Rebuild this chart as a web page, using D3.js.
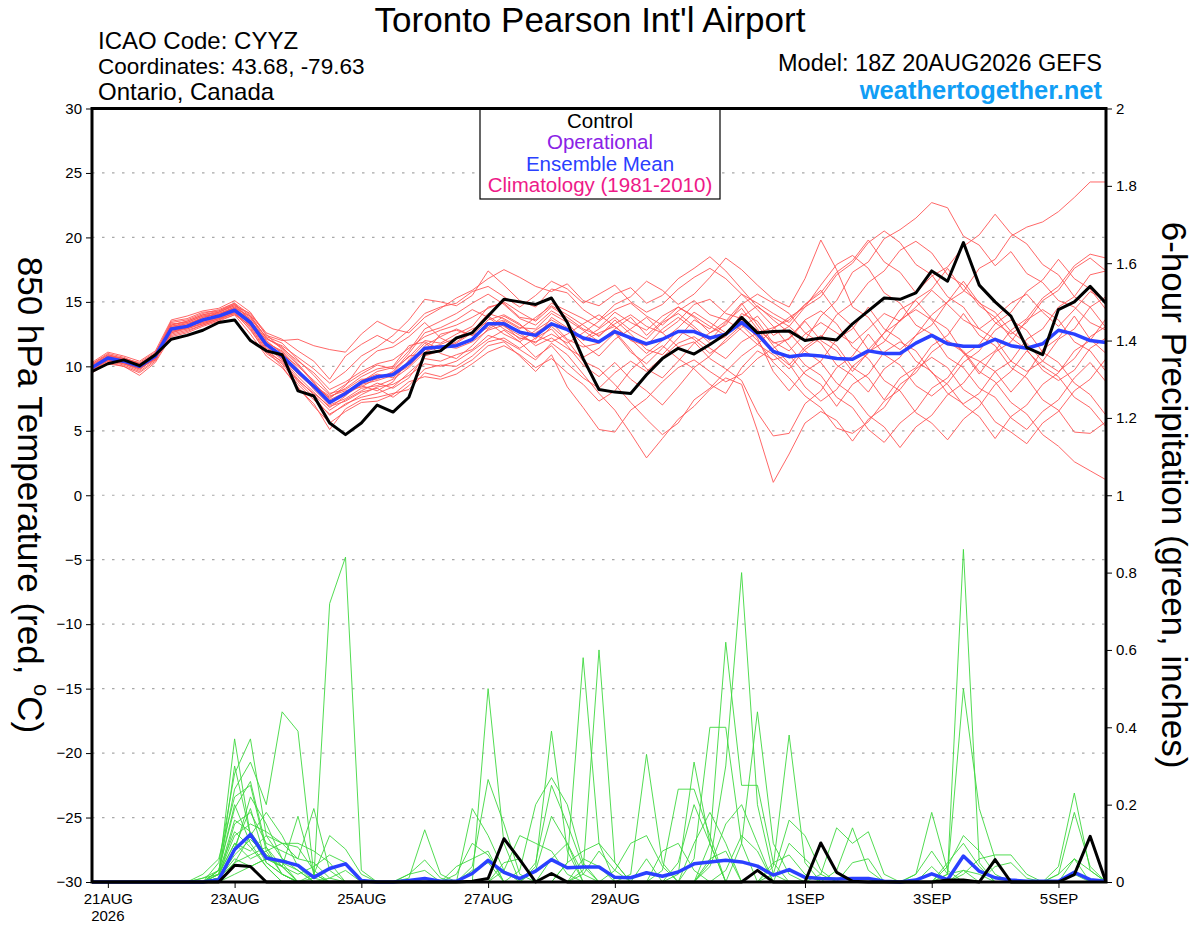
<!DOCTYPE html>
<html><head><meta charset="utf-8">
<script src="https://cdn.jsdelivr.net/npm/d3@7"></script>
<style>
body{margin:0;background:#fff}
text{font-family:"Liberation Sans",Arial,Helvetica,sans-serif}
</style>
</head><body>
<svg id="chart" width="1200" height="927"></svg>
<script>
// ---------------- DATA ----------------
const startTime = "2026-08-20T18:00:00Z";   // first 6-hourly step
const stepCount = 65;
const tickDates = ["2026-08-21","2026-08-23","2026-08-25","2026-08-27","2026-08-29","2026-09-01","2026-09-03","2026-09-05"];
const tickLabels = ["21AUG","23AUG","25AUG","27AUG","29AUG","1SEP","3SEP","5SEP"];
const tempTicks = [30,25,20,15,10,5,0,-5,-10,-15,-20,-25,-30];
const precipTicks = [2,1.8,1.6,1.4,1.2,1,0.8,0.6,0.4,0.2,0];
const precipTickLabels = ["2","1.8","1.6","1.4","1.2","1","0.8","0.6","0.4","0.2","0"];
const legendItems = ["Control","Operational","Ensemble Mean","Climatology (1981-2010)"];

const controlTemp = [9.6,10.2,10.5,10.05,10.9,12.1,12.4,12.8,13.4,13.6,
 12.0,11.2,10.9,8.1,7.7,5.6,4.7,5.6,7.0,6.45,
 7.6,11.0,11.2,12.2,12.6,13.9,15.2,15.0,14.8,15.3,
 13.4,10.6,8.2,8.0,7.9,9.35,10.6,11.4,10.95,11.7,
 12.5,13.8,12.6,12.7,12.75,12.0,12.2,12.05,13.3,14.3,
 15.3,15.2,15.7,17.4,16.6,19.6,16.3,15.0,13.9,11.45,
 10.9,14.4,15.0,16.2,14.9];

const meanTemp = [9.9,10.65,10.4,10.0,10.8,12.9,13.1,13.6,13.9,14.35,
 13.4,11.7,10.8,9.6,8.45,7.2,7.9,8.75,9.2,9.35,
 10.25,11.4,11.5,11.6,12.1,13.3,13.3,12.65,12.4,13.3,
 12.85,12.2,11.9,12.7,12.2,11.75,12.1,12.7,12.7,12.2,
 12.5,13.4,12.5,11.15,10.75,10.9,10.8,10.6,10.55,11.2,
 11.0,11.0,11.8,12.4,11.75,11.55,11.55,12.1,11.6,11.4,
 11.75,12.8,12.5,12.0,11.85];

const controlPrecip = [0,0,0,0,0,0,0,0,0,0.043,
 0.04,0,0,0,0,0,0,0,0,0,
 0,0,0,0,0.002,0.009,0.112,0.058,0,0.022,
 0,0,0,0,0,0,0,0,0,0,
 0,0,0.03,0,0,0,0.101,0.025,0.002,0,
 0,0,0,0,0.005,0.005,0,0.058,0,0,
 0,0,0.019,0.118,0];

const meanPrecip = [0,0,0,0,0,0,0,0,0.006,0.084,
 0.123,0.062,0.054,0.043,0.012,0.035,0.047,0.004,0,0,
 0.004,0.009,0.002,0.002,0.022,0.056,0.025,0.009,0.028,0.058,
 0.037,0.039,0.039,0.012,0.011,0.024,0.015,0.026,0.047,0.052,
 0.056,0.052,0.041,0.018,0.032,0.012,0.009,0.008,0.009,0.009,
 0.002,0,0.005,0.021,0.006,0.067,0.028,0.011,0.005,0.002,
 0.002,0.002,0.025,0.006,0.002];

const memberTemps = [
[10.1,10.9,10.6,10.2,11.0,13.2,13.5,14.0,14.2,14.8,13.9,12.2,11.4, 10.4,9.5,8.2,8.8,9.6,10.2,10.5,11.4,12.3,12.8, 13.2,13.8,14.5,15.0,14.2,13.5,14.6,13.8,12.9,12.4,13.3,14.0,13.1,12.6,13.5,14.8,15.2,14.1,13.7,12.8,11.9, 11.2,12.5,13.4,12.6,11.8,12.9,14.1,13.5,14.6,15.9,14.8,13.6,12.9,13.8,14.9,15.6,14.2,13.1,14.4,15.8,15.1],
[9.7,10.4,10.1,9.6,10.5,12.6,12.9,13.3,13.7,14.1,12.9,11.0,10.2, 8.6,7.4,6.3,7.0,7.8,8.4,8.6,9.3,10.2,10.0, 10.4,11.2,12.1,12.8,11.9,10.7,11.6,10.2,9.1,8.3,9.5,10.4,9.6,10.7,11.8,12.3,11.4,10.6,11.9,12.6,13.0, 13.6,14.8,15.9,14.2,13.1,11.3,12.6,14.4,15.1,13.7,12.9,11.0,10.4,9.6,8.0,9.4,11.3,12.2,13.9,12.1,11.0],
[10.3,11.1,10.8,10.4,11.2,13.6,13.9,14.3,14.5,15.1,14.2,12.4,12.0, 12.1,11.6,11.3,11.1,12.5,13.5,12.9,12.6,13.8,14.5, 15.3,15.9,16.8,17.5,16.9,16.2,15.8,16.4,15.1,14.7,15.6,16.1,14.9,15.5,16.8,17.6,18.5,17.4,16.0,14.6,13.8, 13.1,12.0,13.9,15.1,17.3,18.1,19.9,20.6,21.5,22.7,22.3,20.1,19.4,17.8,18.9,17.2,16.5,15.1,14.6,13.4,12.8],
[9.5,10.2,10.0,9.3,10.3,12.3,12.6,13.1,13.5,14.0,13.2,11.5,10.5, 9.0,7.8,6.6,7.4,8.1,8.7,8.3,9.1,10.8,11.2, 11.8,12.6,13.9,13.1,12.4,11.8,13.1,12.0,10.4,9.8,8.6,7.2,5.9,4.7,5.6,7.4,8.3,9.6,10.8,11.7,12.9, 13.8,14.6,16.3,17.9,18.6,17.6,15.7,14.9,13.2,12.5,10.7,9.9,8.3,7.6,6.0,5.1,6.5,7.4,9.1,10.3,8.8],
[9.9,10.7,10.5,10.1,11.0,13.0,13.2,13.8,14.1,14.6,13.8,12.0,11.0, 10.0,8.9,7.8,8.6,9.4,10.1,9.8,10.7,12.0,11.8, 12.5,13.1,14.6,14.9,13.8,13.6,14.9,14.3,13.7,13.0,14.2,13.4,12.8,13.9,14.6,13.8,12.6,13.2,14.8,15.6,14.9, 14.1,12.6,11.8,10.1,9.3,8.0,9.8,10.7,12.4,13.2,15.0,15.8,17.6,18.3,20.1,20.8,21.2,22.0,23.1,24.3,24.3],
[10.0,10.5,10.3,9.8,10.6,12.7,13.0,13.5,13.9,14.3,13.0,11.2,10.0, 8.3,7.1,5.1,6.7,7.4,7.6,7.9,8.2,9.5,9.2, 9.8,10.5,11.6,11.9,10.8,9.6,10.9,8.4,6.8,5.1,4.9,6.6,7.5,8.8,9.9,10.5,9.6,8.8,9.4,10.6,11.4, 12.2,13.6,14.3,13.3,11.5,10.6,8.9,8.1,6.4,5.6,4.3,5.9,6.9,8.6,9.6,11.2,10.0,9.2,7.6,6.8,5.3],
[9.8,10.8,10.6,10.3,11.1,13.3,13.4,13.9,14.0,14.5,13.5,12.1,11.6, 10.7,9.8,8.7,9.6,10.8,11.5,12.4,13.6,15.2,15.0, 14.7,15.5,17.4,16.3,15.1,14.6,16.0,15.7,14.4,13.6,14.8,15.4,16.6,15.9,14.8,15.6,16.9,18.4,17.5,16.3,15.2, 14.6,16.8,19.8,17.5,14.6,13.8,12.1,11.3,12.4,14.0,15.0,16.6,14.9,14.2,12.7,11.8,10.4,9.6,10.6,12.3,13.1],
[9.6,10.3,10.0,9.5,10.4,12.5,12.8,13.2,13.6,14.2,13.6,11.8,11.2, 9.8,8.2,7.0,7.5,8.3,8.5,9.0,9.9,11.1,11.6, 11.4,11.9,12.8,13.2,12.1,12.6,13.4,12.1,11.5,11.8,12.7,11.3,9.8,9.1,10.4,11.8,12.6,13.5,14.9,13.2,11.6, 10.2,8.4,7.3,8.2,10.0,11.0,12.6,13.5,15.2,16.0,17.6,15.9,15.0,13.4,12.5,13.4,15.1,15.9,17.6,18.4,17.4],
[10.2,11.0,10.7,10.2,10.9,13.1,13.3,13.7,14.2,14.7,13.4,11.6,10.6, 9.2,8.0,6.8,7.7,8.9,9.4,9.1,10.2,11.6,12.3, 12.9,12.4,13.6,14.0,13.3,12.1,13.8,13.0,11.7,10.8,12.1,12.9,13.8,12.6,11.5,11.9,10.6,9.8,8.9,6.4,4.6, 4.8,7.1,8.1,9.9,10.8,12.5,10.9,10.1,8.5,7.7,8.7,10.3,11.2,12.8,13.6,12.8,11.1,10.3,8.7,7.8,6.2],
[9.9,10.6,10.2,9.7,10.7,12.8,13.1,13.5,13.8,14.4,13.7,12.3,11.8, 10.5,9.3,7.9,8.2,9.0,9.0,9.6,11.0,12.6,13.0, 13.6,14.4,13.8,12.9,12.2,11.9,12.5,11.8,12.6,13.5,14.4,14.9,13.9,13.2,14.3,15.1,14.0,13.6,12.8,11.7,10.9, 9.8,11.3,12.2,14.0,14.9,16.5,17.4,19.0,19.7,18.8,17.1,16.3,14.7,13.8,12.2,11.3,9.7,8.9,9.7,11.4,12.2],
[10.0,10.5,10.4,10.0,10.8,13.4,13.6,14.1,14.4,14.9,14.0,12.5,11.3, 10.1,8.7,7.5,8.5,10.2,11.2,11.5,12.3,13.4,12.2, 11.6,12.0,13.2,13.6,12.9,13.8,14.7,14.0,13.2,12.3,13.6,12.5,11.3,10.9,12.2,13.6,12.9,14.3,15.6,14.4,13.1, 11.6,10.1,9.3,7.6,6.8,5.1,4.1,5.6,6.6,8.3,9.1,10.8,11.7,13.3,14.2,15.8,16.7,18.3,16.8,16.0,14.4],
[9.7,10.6,10.3,9.9,10.5,12.9,12.9,13.4,13.8,14.2,12.8,11.1,10.4, 8.8,7.6,6.2,7.1,7.6,7.9,8.4,9.5,10.6,10.4, 10.9,11.3,12.4,12.0,11.3,10.5,11.8,10.9,9.4,7.9,6.6,4.8,2.9,4.4,5.9,6.9,8.2,9.1,8.6,5.0,1.0, 3.2,5.6,6.5,5.8,4.2,5.9,6.8,8.6,9.5,11.1,12.0,11.2,9.6,8.8,7.2,6.3,4.7,3.8,2.6,1.9,1.2],
[10.1,10.8,10.6,10.2,10.9,12.6,13.0,13.6,14.0,14.6,13.3,11.4,10.7, 9.4,8.3,7.3,7.8,8.5,8.1,8.8,10.5,11.8,11.0, 10.6,11.6,12.9,13.5,12.6,11.6,12.2,11.4,10.7,11.4,12.6,11.1,10.2,11.4,12.8,12.1,11.0,11.9,13.0,13.9,12.4, 13.1,14.6,15.4,17.1,18.0,19.6,20.5,19.6,17.9,17.1,15.4,14.6,12.9,12.1,10.4,9.6,10.4,12.1,12.9,14.6,15.4],
[9.8,10.4,10.2,9.8,10.6,13.0,13.3,13.8,14.1,14.5,13.9,12.2,11.5, 10.2,8.8,7.1,7.9,8.8,9.6,9.9,11.2,12.9,13.5, 14.1,14.9,15.6,14.8,13.7,13.2,14.3,13.6,12.8,11.9,12.9,13.8,12.4,13.5,14.6,13.9,13.1,12.4,13.8,14.7,13.6, 12.6,11.2,10.3,8.7,7.8,6.2,5.3,3.7,5.3,6.2,7.8,8.7,10.3,11.2,12.8,13.7,15.3,16.2,17.8,18.7,18.4],
[10.0,10.7,10.5,10.1,11.0,12.8,13.2,13.4,13.7,14.1,13.1,11.3,10.3, 8.9,7.9,6.9,7.3,8.0,8.3,7.6,8.5,9.8,10.1, 10.0,10.8,11.9,12.2,11.4,12.2,12.9,11.6,10.1,9.2,10.3,9.0,8.1,7.0,8.4,9.9,10.8,12.1,13.2,12.0,10.3, 9.1,7.7,6.8,5.2,4.8,5.7,7.3,8.2,9.8,10.7,9.9,8.2,7.4,5.7,4.9,4.0,5.6,6.5,8.1,9.0,10.6],
[9.6,10.5,10.2,9.9,10.7,13.2,13.5,14.0,14.3,14.8,13.6,11.9,11.1, 9.6,8.4,7.6,8.3,9.2,9.8,10.0,11.6,11.9,11.3, 11.9,12.7,14.1,13.7,13.0,12.9,14.1,13.4,12.0,12.6,13.1,12.0,11.6,12.9,13.8,12.9,11.8,12.3,14.1,13.5,11.8, 12.1,13.5,12.0,11.2,9.6,11.1,11.9,13.6,14.4,13.6,11.9,11.1,9.4,11.1,11.9,13.6,14.4,13.6,11.9,11.2,9.6],
[10.2,10.9,10.6,10.1,10.8,12.4,12.7,13.2,13.6,14.0,12.5,10.8,9.9, 8.4,6.9,5.6,6.5,7.2,7.3,7.8,8.8,9.2,9.0, 9.4,10.2,11.1,11.6,10.9,9.9,10.6,9.5,8.6,7.3,8.1,9.7,10.8,11.6,10.6,9.8,8.6,7.9,9.9,11.2,10.5, 10.9,9.4,8.6,6.9,8.6,9.4,11.1,11.9,11.2,9.5,8.6,7.0,6.1,4.4,6.1,7.0,8.6,9.5,11.2,12.0,13.7],
[9.9,10.6,10.4,10.0,10.9,13.1,13.4,13.9,14.2,14.7,14.1,12.6,12.1, 11.2,10.4,9.0,10.8,11.7,12.4,11.8,12.8,14.1,14.6, 14.9,15.8,16.2,15.4,14.6,15.5,16.6,16.0,14.9,15.6,16.3,15.0,14.2,14.8,16.0,16.9,17.6,16.8,15.6,14.9,14.1, 13.4,14.8,15.7,17.3,18.2,19.8,18.1,17.3,15.7,17.0,17.7,19.3,20.2,21.8,20.3,19.5,17.9,17.1,15.4,14.6,13.0],
[10.0,10.8,10.5,10.2,11.0,13.5,13.7,14.2,14.3,14.9,13.5,11.7,10.8, 9.5,8.6,7.4,8.0,8.6,8.9,9.3,10.0,11.3,11.7, 12.2,12.9,13.4,12.5,11.9,12.8,13.6,12.9,12.1,12.9,13.8,12.8,12.1,13.4,14.1,13.1,12.0,13.4,14.5,12.9,11.1, 10.1,11.5,12.4,11.6,9.9,9.1,7.4,9.1,9.9,11.6,12.4,14.1,12.4,11.6,9.9,9.1,7.4,6.6,4.9,4.8,5.7],
[9.8,10.5,10.3,9.9,10.6,12.7,13.0,13.3,13.7,14.3,13.2,11.6,10.9, 9.7,8.5,7.7,8.1,8.4,9.1,9.5,10.8,11.0,12.5, 12.8,12.4,13.0,13.9,13.2,12.4,11.9,12.5,13.3,14.0,13.1,12.1,11.0,12.0,13.0,14.2,13.4,12.6,13.6,12.2,9.6, 8.1,9.6,10.4,12.1,12.9,14.6,12.9,12.1,10.4,9.6,7.9,7.1,7.9,9.6,10.4,12.1,12.9,14.6,15.4,17.1,17.4]
];

const memberPrecip = [
[0,0,0,0,0,0,0,0,.02,.37, .12,.05,.02,0,0,0,0,0,0,0, 0,0,0,0,0,.5,.1,0,0,0, 0,0,0,0,0,0,0,0,0,.05, .3,.8,.2,.02,0,0,0,0,0,0, 0,0,0,0,0,0,0,0,0,0, 0,0,.02,0,0],
[0,0,0,0,0,0,0,0,.05,.28, .37,.12,.06,.03,0,0,0,0,0,0, 0,0,0,0,0,0,0,0,0,0, .05,.58,.1,0,0,0,0,0,0,0, 0,0,0,0,0,0,0,0,0,0, 0,0,0,0,.02,.86,.05,0,0,0, 0,0,0,0,0],
[0,0,0,0,0,0,0,.01,.03,.24, .31,.2,.44,.39,.02,0,0,0,0,0, 0,0,0,0,0,0,0,0,0,0, 0,0,0,0,.02,.33,.05,0,0,0, 0,0,0,0,0,0,0,0,0,0, 0,0,0,0,0,0,0,0,0,0, 0,.04,.23,.03,0],
[0,0,0,0,0,0,0,.02,.06,.22, .25,.08,.02,0,.01,.72,.84,.03,0,0, 0,0,0,0,0,0,0,0,0,0, 0,0,0,0,0,0,0,0,0,0, 0,0,0,0,0,0,0,.03,.14,.03, 0,0,0,0,0,0,0,0,0,0, 0,0,0,0,0],
[0,0,0,0,0,0,0,0,.01,.15, .18,.1,.08,.06,.05,.01,0,0,0,0, 0,0,0,0,0,0,0,0,.04,.39, .08,0,0,0,0,0,0,.02,.31,.1, 0,0,0,0,0,0,0,0,0,0, 0,0,.02,.18,.03,0,0,0,0,0, 0,0,0,0,0],
[0,0,0,0,0,0,0,0,.01,.3, .12,.06,.04,.17,.02,0,0,0,0,0, .01,.135,.02,0,0,0,0,0,0,0, 0,.03,.6,.05,0,0,0,0,0,0, 0,0,0,.04,.38,.05,0,0,0,0, 0,0,0,0,0,0,0,0,0,0, 0,0,0,0,0],
[0,0,0,0,0,0,0,0,.03,.19, .26,.09,.04,0,0,0,0,0,0,0, 0,0,0,0,.19,.12,.03,0,0,0, 0,0,0,0,0,0,0,0,.06,.4, .4,.1,0,0,0,0,0,0,0,0, 0,0,0,0,.02,.5,.19,.06,0,0, 0,0,0,0,0],
[0,0,0,0,0,0,0,0,.02,.12, .15,.13,.1,.06,.19,.03,0,0,0,0, 0,0,0,0,0,0,0,.03,.2,.27, .2,.05,0,0,0,0,0,0,0,0, 0,0,0,.02,.16,.12,.03,0,0,0, 0,0,0,0,0,0,0,0,0,0, 0,0,0,0,0],
[0,0,0,0,0,0,0,0,0,.08, .22,.15,.06,.04,.01,0,0,0,0,0, 0,0,0,0,.04,.265,.15,.02,0,0, 0,0,0,0,0,0,.03,.24,.24,.12, 0,0,0,0,0,0,.02,.14,.1,.13, .02,0,0,0,0,0,0,0,0,0, 0,0,0,0,0],
[0,0,0,0,0,0,0,0,.02,.1, .08,.12,.1,.09,.03,0,0,0,0,0, 0,0,0,0,0,0,0,0,.05,.25, .15,.04,0,0,0,0,0,0,0,0, 0,.1,.44,.1,.02,0,0,0,0,0, 0,0,0,0,0,0,0,0,0,0, 0,.02,.18,.04,0],
[0,0,0,0,0,0,0,0,.01,.05, .12,.18,.12,.04,0,0,0,0,0,0, .02,.057,.01,0,0,0,0,0,0,0, 0,0,0,.03,.1,.12,.04,0,0,0, 0,0,0,0,0,0,0,0,0,0, 0,0,.02,.08,.02,.03,0,0,0,0, 0,0,0,0,0],
[0,0,0,0,0,0,0,0,.03,.2, .1,.04,0,0,.02,.12,.085,.02,0,0, 0,0,0,0,0,0,.03,.12,.1,.08, .02,0,0,0,0,0,0,0,0,.1, .62,.25,.25,.05,0,0,0,0,0,0, 0,0,0,0,0,.02,.06,.07,.07,.02, 0,0,0,0,0],
[0,0,0,0,0,0,0,.01,.02,.1, .06,.08,.1,.1,.08,.05,0,0,0,0, 0,0,0,.02,.1,.07,0,0,0,0, 0,0,0,0,0,0,0,.05,.2,.1, 0,0,0,0,.1,.06,.02,0,0,0, 0,0,0,0,0,0,0,0,0,0, 0,0,0,0,0],
[0,0,0,0,0,0,0,0,.01,.06, .04,.06,.04,.02,.04,.07,.05,0,0,0, 0,0,0,0,0,0,0,0,0,0, .05,.08,.1,.05,0,0,0,0,0,0, .03,.12,.08,0,0,0,0,0,0,0, 0,0,0,0,.04,.12,.08,.02,0,0, 0,0,0,0,0],
[0,0,0,0,0,0,0,0,.02,.16, .13,.07,.05,0,0,0,0,0,0,0, 0,0,0,.04,.06,.08,0,0,.03,.17, .1,0,0,0,0,0,0,0,0,0, 0,0,0,0,0,0,0,0,.05,.06, 0,0,0,0,0,0,0,0,0,0, 0,.02,.06,0,0],
[0,0,0,0,0,0,0,0,0,.05, .07,.09,.02,0,0,0,0,0,0,0, .02,.03,0,0,0,0,0,0,0,0, 0,.06,.04,0,0,0,0,0,0,.04, .15,.2,.1,0,0,0,0,0,0,0, 0,0,0,0,.05,.1,.04,0,0,0, 0,0,0,0,0],
[0,0,0,0,0,0,0,0,0,.02, .04,.06,.05,.03,0,0,0,0,0,0, 0,0,0,0,0,0,0,0,0,.06, .1,.02,0,0,0,0,.08,.1,.03,0, 0,0,0,.05,.07,.02,0,0,0,0, 0,0,0,.04,0,0,0,0,0,0, 0,0,0,0,0],
[0,0,0,0,0,0,0,0,.01,.09, .19,.05,.02,0,0,0,0,0,0,0, 0,0,0,0,0,0,.05,.06,0,0, 0,0,0,0,0,0,0,0,.1,.18, .1,0,0,0,0,0,0,0,0,0, 0,0,0,0,0,0,0,.04,.05,.01, 0,0,0,0,0],
[0,0,0,0,0,0,0,0,.03,.13, .09,.04,0,0,0,.01,.03,0,0,0, 0,0,0,0,0,0,0,0,0,0, 0,.02,.08,.03,0,.06,0,0,0,0, 0,0,0,0,0,0,0,0,0,0, 0,0,0,0,0,.03,.02,0,0,0, 0,0,0,0,0],
[0,0,0,0,0,0,0,0,.01,.07, .11,.07,.04,0,0,0,0,0,0,0, 0,0,0,0,.03,.05,0,0,0,0, 0,0,0,0,0,0,0,0,0,.06, .08,0,0,0,0,0,0,0,0,0, 0,0,0,0,0,0,0,0,0,0, 0,0,.06,.03,0]
];

// ---------------- CHART ----------------
const svg = d3.select("#chart");
const L = 92, R = 1106, T = 108.5, B = 882;
const t0 = new Date(startTime);
const times = d3.range(stepCount).map(i => d3.utcHour.offset(t0, 6 * i));
const x = d3.scaleUtc().domain([times[0], times[stepCount - 1]]).range([L, R]);
const yT = d3.scaleLinear().domain([-30, 30]).range([B, T]);
const yP = d3.scaleLinear().domain([0, 2]).range([B, T]);

svg.append("rect").attr("width", 1200).attr("height", 927).attr("fill", "#fff");

// grid
svg.append("g").selectAll("line").data(tempTicks.filter(v => v > -30 && v < 30)).join("line")
  .attr("x1", L).attr("x2", R).attr("y1", d => yT(d)).attr("y2", d => yT(d))
  .attr("stroke", "#a8a8a8").attr("stroke-width", 1.2).attr("stroke-dasharray", "2.5,7.5");

const lineT = d3.line().x((d, i) => x(times[i])).y(d => yT(d));
const lineP = d3.line().x((d, i) => x(times[i])).y(d => yP(d));

const gm = svg.append("g");
gm.selectAll("path.tm").data(memberTemps).join("path").attr("class", "tm")
  .attr("d", lineT).attr("fill", "none").attr("stroke", "#ff5656").attr("stroke-width", 0.9);
gm.selectAll("path.pm").data(memberPrecip).join("path").attr("class", "pm")
  .attr("d", lineP).attr("fill", "none").attr("stroke", "#3ed83e").attr("stroke-width", 0.9);

svg.append("path").attr("d", lineT(meanTemp)).attr("fill", "none").attr("stroke", "#2a40ff").attr("stroke-width", 3.5).attr("stroke-linejoin", "round");
svg.append("path").attr("d", lineP(meanPrecip)).attr("fill", "none").attr("stroke", "#2a40ff").attr("stroke-width", 3.5).attr("stroke-linejoin", "round");
svg.append("path").attr("d", lineT(controlTemp)).attr("fill", "none").attr("stroke", "#000").attr("stroke-width", 3).attr("stroke-linejoin", "round");
svg.append("path").attr("d", lineP(controlPrecip)).attr("fill", "none").attr("stroke", "#000").attr("stroke-width", 3).attr("stroke-linejoin", "round");

// axes
const axL = svg.append("g").attr("transform", `translate(${L},0)`)
  .call(d3.axisLeft(yT).tickValues(tempTicks).tickSize(6).tickPadding(4).tickFormat(d3.format("d")));
const axR = svg.append("g").attr("transform", `translate(${R},0)`)
  .call(d3.axisRight(yP).tickValues(precipTicks).tickSize(6).tickPadding(4).tickFormat((d, i) => precipTickLabels[i]));
const tickDateObjs = tickDates.map(s => new Date(s + "T00:00:00Z"));
const axB = svg.append("g").attr("transform", `translate(0,${B})`)
  .call(d3.axisBottom(x).tickValues(tickDateObjs).tickSize(6).tickPadding(5).tickFormat((d, i) => tickLabels[i]));
[axL, axR, axB].forEach(g => {
  g.select(".domain").remove();
  g.selectAll("text").attr("font-size", 15).attr("fill", "#000").style("font-family", '"Liberation Sans",Arial,sans-serif');
  g.selectAll("line").attr("stroke", "#000");
});
svg.append("text").attr("x", x(tickDateObjs[0])).attr("y", 921).attr("text-anchor", "middle")
  .attr("font-size", 15).text("2026");

// frame
svg.append("rect").attr("x", L).attr("y", T).attr("width", R - L).attr("height", B - T)
  .attr("fill", "none").attr("stroke", "#000").attr("stroke-width", 3);

// legend
const legColors = ["#000000", "#8a22e6", "#2a40ff", "#ee1a88"];
svg.append("rect").attr("x", 480).attr("y", T).attr("width", 240).attr("height", 199 - T)
  .attr("fill", "#fff").attr("stroke", "#000").attr("stroke-width", 1.2);
svg.append("line").attr("x1", 480).attr("x2", 720).attr("y1", T).attr("y2", T).attr("stroke", "#000").attr("stroke-width", 3);
svg.append("g").selectAll("text").data(legendItems).join("text")
  .attr("x", 600).attr("y", (d, i) => 127.5 + i * 21.5).attr("text-anchor", "middle")
  .attr("font-size", 20.5).attr("fill", (d, i) => legColors[i]).text(d => d);

// header texts
svg.append("text").attr("x", 590).attr("y", 32).attr("text-anchor", "middle").attr("font-size", 35).text("Toronto Pearson Int'l Airport");
const info = ["ICAO Code: CYYZ", "Coordinates: 43.68, -79.63", "Ontario, Canada"];
const infoSizes = [24, 22.5, 24];
svg.append("g").selectAll("text").data(info).join("text")
  .attr("x", 98).attr("y", (d, i) => [49, 74, 100][i]).attr("font-size", (d, i) => infoSizes[i]).text(d => d);
svg.append("text").attr("x", 1102).attr("y", 71).attr("text-anchor", "end").attr("font-size", 23.5).text("Model: 18Z 20AUG2026 GEFS");
svg.append("text").attr("x", 1102).attr("y", 99).attr("text-anchor", "end").attr("font-size", 25.5)
  .attr("font-weight", "bold").attr("fill", "#119ef5").text("weathertogether.net");

// axis titles
const lt = svg.append("text").attr("transform", "translate(31,495) rotate(90)").attr("text-anchor", "middle")
  .attr("dominant-baseline", "central").attr("font-size", 35);
lt.append("tspan").text("850 hPa Temperature (red, ");
lt.append("tspan").attr("font-size", 22).attr("dy", -11).text("o");
lt.append("tspan").attr("dy", 11).text("C)");
svg.append("text").attr("transform", "translate(1174,495) rotate(90)").attr("text-anchor", "middle")
  .attr("dominant-baseline", "central").attr("font-size", 35).text("6-hour Precipitation (green, inches)");
</script>
</body></html>
